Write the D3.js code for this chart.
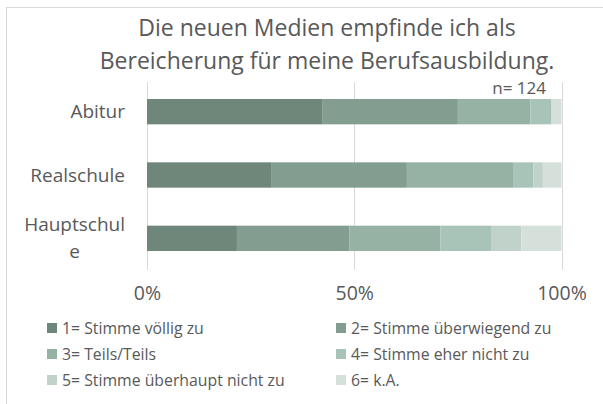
<!DOCTYPE html>
<html>
<head>
<meta charset="utf-8">
<script src="https://cdn.jsdelivr.net/npm/d3@7"></script>
<style>
  html, body { margin: 0; padding: 0; background: #fff; }
  svg { display: block; }
  text { font-family: "Open Sans", "Lato", sans-serif; fill: #595959; }
</style>
</head>
<body>
<svg id="chart" width="603" height="404"></svg>
<script>
// Schulabschluss categories (top to bottom)
const categories = ["Abitur", "Realschule", "Hauptschule"];
// Answer scale
const answers = [
  "1= Stimme völlig zu",
  "2= Stimme überwiegend zu",
  "3= Teils/Teils",
  "4= Stimme eher nicht zu",
  "5= Stimme überhaupt nicht zu",
  "6= k.A."
];
// Percentage share of each answer per category
const abitur      = [42.4, 32.6, 17.5, 5.1, 0.0, 2.4];
const realschule  = [30.1, 32.6, 25.6, 4.9, 2.3, 4.5];
const hauptschule = [21.7, 27.1, 22.0, 12.2, 7.3, 9.7];
const tickValues = [0, 50, 100];
const tickLabels = ["0%", "50%", "100%"];
const colors = ["#6f877b", "#839e91", "#95b2a5", "#a8c4b9", "#c0d2c9", "#d5e0da"];
const titleLines = ["Die neuen Medien empfinde ich als", "Bereicherung für meine Berufsausbildung."];
const note = "n= 124";

const seriesByCategory = { "Abitur": abitur, "Realschule": realschule, "Hauptschule": hauptschule };
const rows = categories.map(c => {
  const o = { cat: c };
  answers.forEach((a, i) => o[a] = seriesByCategory[c][i]);
  return o;
});

const svg = d3.select("#chart");

// outer frame
svg.append("rect")
  .attr("x", 6.5).attr("y", 7.5).attr("width", 700).attr("height", 500)
  .attr("fill", "none").attr("stroke", "#d9d9d9").attr("stroke-width", 1);

const x = d3.scaleLinear().domain([0, 100]).range([147, 561.5]);
const y = d3.scaleBand().domain(categories).range([80, 270]).paddingInner(0.6).paddingOuter(0.3);

// gridlines
svg.append("g").selectAll("line").data(tickValues).join("line")
  .attr("x1", d => Math.round(x(d)) + 0.5).attr("x2", d => Math.round(x(d)) + 0.5)
  .attr("y1", 82).attr("y2", 270)
  .attr("stroke", "#d9d9d9").attr("stroke-width", 1);

// stacked bars
const stack = d3.stack().keys(answers);
const layers = stack(rows);
svg.append("g").selectAll("g").data(layers).join("g")
  .attr("fill", (d, i) => colors[i])
  .selectAll("rect").data(d => d).join("rect")
  .attr("x", d => x(d[0]))
  .attr("width", d => x(d[1]) - x(d[0]))
  .attr("y", d => y(d.data.cat))
  .attr("height", y.bandwidth());

// x axis labels
const xAxis = d3.axisBottom(x).tickValues(tickValues).tickFormat((d, i) => tickLabels[i]).tickSize(0).tickPadding(0);
const gx = svg.append("g").attr("transform", "translate(0,286)").call(xAxis);
gx.select(".domain").remove();
gx.selectAll("text").attr("font-size", 19.5).attr("fill", "#595959")
  .style("font-family", '"Open Sans", sans-serif');

// category labels (wrapped like the original)
const catLines = { "Abitur": ["Abitur"], "Realschule": ["Realschule"], "Hauptschule": ["Hauptschul", "e"] };
const labelRight = 125;
categories.forEach(c => {
  const lines = catLines[c];
  const g = svg.append("g");
  const cy = y(c) + y.bandwidth() / 2;
  const lh = 27;
  const t = lines.map((l, i) => g.append("text")
    .attr("font-size", 19)
    .attr("y", cy + 6.5 + (i - (lines.length - 1) / 2) * lh)
    .text(l));
  const maxW = d3.max(t, s => s.node().getComputedTextLength());
  if (lines.length === 1) {
    t[0].attr("x", labelRight).attr("text-anchor", "end");
  } else {
    t.forEach(s => s.attr("x", labelRight - maxW / 2).attr("text-anchor", "middle"));
  }
});

// title
svg.selectAll(".title").data(titleLines).join("text")
  .attr("class", "title")
  .attr("x", 327).attr("y", (d, i) => 36 + i * 33)
  .attr("text-anchor", "middle")
  .attr("font-size", 23)
  .text(d => d);

// sample size
svg.append("text").attr("x", 546).attr("y", 94).attr("text-anchor", "end")
  .attr("font-size", 17).text(note);

// legend
const legend = svg.append("g");
answers.forEach((a, i) => {
  const col = i % 2, row = Math.floor(i / 2);
  const lx = col === 0 ? 47 : 336;
  const ly = 328 + row * 26;
  legend.append("rect").attr("x", lx).attr("y", ly - 5).attr("width", 10).attr("height", 10).attr("fill", colors[i]);
  legend.append("text").attr("x", lx + 15).attr("y", ly + 6).attr("font-size", 15.8).text(a);
});
</script>
</body>
</html>
